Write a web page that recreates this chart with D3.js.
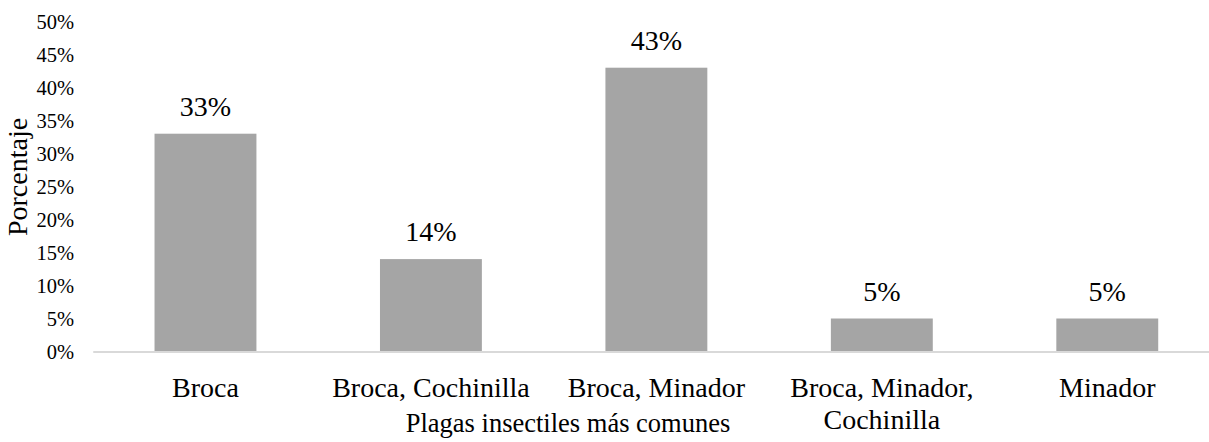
<!DOCTYPE html>
<html><head><meta charset="utf-8">
<script src="https://cdn.jsdelivr.net/npm/d3@7"></script>
<style>
html,body{margin:0;padding:0;background:#fff;}
svg{display:block;}
</style></head>
<body><svg id="c" width="1209" height="442"></svg>
<script>
const categories = ["Broca", "Broca, Cochinilla", "Broca, Minador", "Broca, Minador, Cochinilla", "Minador"];
const categoryLines = [["Broca"], ["Broca, Cochinilla"], ["Broca, Minador"], ["Broca, Minador,", "Cochinilla"], ["Minador"]];
const values = [0.33, 0.14, 0.43, 0.05, 0.05];
const yTicks = [0, 0.05, 0.10, 0.15, 0.20, 0.25, 0.30, 0.35, 0.40, 0.45, 0.50];
const yTitle = "Porcentaje";
const xTitle = "Plagas insectiles más comunes";

const FONT = "Liberation Serif";
const svg = d3.select("#c");
const x = d3.scaleBand().domain(categories).range([92.75, 1220]).paddingInner(0.548).paddingOuter(0.274);
const y = d3.scaleLinear().domain([0, 0.5]).range([351.5, 21.5]);
const pct = d3.format(".0%");

// y axis (labels only)
const ya = svg.append("g").attr("transform", "translate(93,0)")
  .call(d3.axisLeft(y).tickValues(yTicks).tickFormat(pct).tickSize(0).tickPadding(19));
ya.select(".domain").remove();
ya.selectAll("text").style("font-family", FONT).style("font-size", "20.5px").attr("fill", "#000").attr("dy", "0.34em");

// bars
svg.append("g").selectAll("rect").data(values).join("rect")
  .attr("x", (d, i) => x(categories[i]))
  .attr("width", x.bandwidth())
  .attr("y", d => y(d))
  .attr("height", d => y(0) - y(d))
  .attr("fill", "#a5a5a5");

// x axis
const xa = svg.append("g").attr("transform", `translate(0,${y(0)})`)
  .call(d3.axisBottom(x).tickSize(0).tickFormat(""));
xa.select(".domain").attr("stroke", "#d9d9d9").attr("stroke-width", 2);
xa.selectAll(".tick").each(function(d, i) {
  const t = d3.select(this).append("text")
    .attr("text-anchor", "middle").attr("fill", "#000")
    .style("font-family", FONT).style("font-size", "28px").attr("y", 45);
  categoryLines[i].forEach((ln, j) => {
    t.append("tspan").attr("x", 0).attr("dy", j === 0 ? 0 : 32).text(ln);
  });
});

// data labels
svg.append("g").selectAll("text").data(values).join("text")
  .attr("x", (d, i) => x(categories[i]) + x.bandwidth() / 2)
  .attr("y", d => y(d) - 18)
  .attr("text-anchor", "middle").attr("fill", "#000")
  .style("font-family", FONT).style("font-size", "28px")
  .text(d => pct(d));

// titles
svg.append("text").attr("transform", "translate(27,177) rotate(-90)")
  .attr("text-anchor", "middle").attr("fill", "#000")
  .style("font-family", FONT).style("font-size", "28px").text(yTitle);
svg.append("text").attr("x", 568).attr("y", 432)
  .attr("text-anchor", "middle").attr("fill", "#000")
  .style("font-family", FONT).style("font-size", "26.5px").text(xTitle);
</script></body></html>
